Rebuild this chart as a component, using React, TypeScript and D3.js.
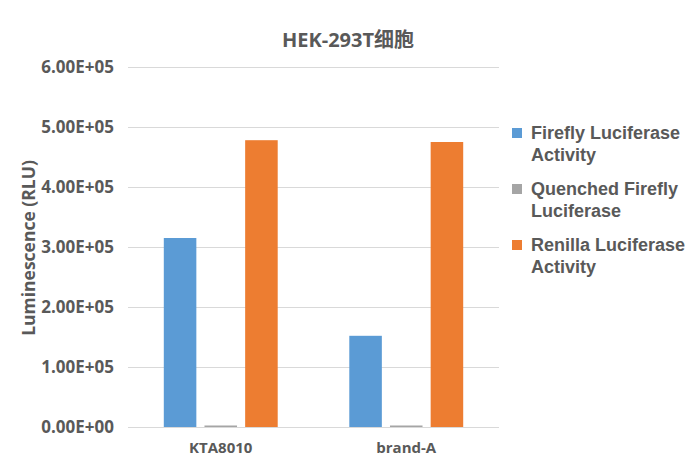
import * as d3 from 'd3';
import { useEffect, useRef } from 'react';

const categories = ['KTA8010', 'brand-A'];
const seriesNames = [
  'Firefly Luciferase Activity',
  'Quenched Firefly Luciferase',
  'Renilla Luciferase Activity',
];
const legendLines = [
  ['Firefly Luciferase', 'Activity'],
  ['Quenched Firefly', 'Luciferase'],
  ['Renilla Luciferase', 'Activity'],
];
const fireflyValues = [315000, 152000];
const quenchedValues = [2500, 2500];
const renillaValues = [478000, 475000];
const yTicks = [0, 100000, 200000, 300000, 400000, 500000, 600000];
const seriesColors = ['#5B9BD5', '#A5A5A5', '#ED7D31'];

const textColor = '#595959';
const width = 696;
const height = 461;

export default function App() {
  const svgRef = useRef<SVGSVGElement>(null);

  useEffect(() => {
    const svgEl = svgRef.current;
    if (!svgEl) return;
    const svg = d3.select(svgEl);
    svg.selectAll('*').remove();

    const margin = { top: 67, right: 197, bottom: 34, left: 128 };
    const innerW = width - margin.left - margin.right;
    const innerH = height - margin.top - margin.bottom;

    const data = categories.map((c, i) => ({
      category: c,
      values: [fireflyValues[i], quenchedValues[i], renillaValues[i]],
    }));

    const x0 = d3.scaleBand<string>().domain(categories).range([0, innerW]);
    const x1 = d3
      .scaleBand<number>()
      .domain([0, 1, 2])
      .range([0, x0.bandwidth()])
      .paddingInner(0.2)
      .paddingOuter(0.88);
    const y = d3.scaleLinear().domain([0, 600000]).range([innerH, 0]);

    const g = svg
      .append('g')
      .attr('transform', `translate(${margin.left},${margin.top})`);

    // gridlines
    g.selectAll('.grid')
      .data(yTicks)
      .join('line')
      .attr('x1', 0)
      .attr('x2', innerW)
      .attr('y1', (d) => Math.round(y(d)) + 0.5)
      .attr('y2', (d) => Math.round(y(d)) + 0.5)
      .attr('stroke', '#D9D9D9')
      .attr('stroke-width', 1);

    // tick labels
    g.selectAll('.tick')
      .data(yTicks)
      .join('text')
      .attr('x', -14)
      .attr('y', (d) => y(d))
      .attr('dy', '0.35em')
      .attr('text-anchor', 'end')
      .attr('fill', textColor)
      .attr('font-family', '"Open Sans", sans-serif')
      .attr('font-weight', 'bold')
      .attr('font-size', 17)
      .text((d) => d.toExponential(2).toUpperCase().replace(/E([+-])(\d)$/, 'E$10$2'));

    // bars
    const groups = g
      .selectAll('.cat')
      .data(data)
      .join('g')
      .attr('transform', (d) => `translate(${x0(d.category)},0)`);

    groups
      .selectAll('rect')
      .data((d) => d.values.map((v, i) => ({ v, i })))
      .join('rect')
      .attr('x', (d) => x1(d.i)!)
      .attr('width', x1.bandwidth())
      .attr('y', (d) => y(d.v))
      .attr('height', (d) => innerH - y(d.v))
      .attr('fill', (d) => seriesColors[d.i]);

    // category labels
    g.selectAll('.cat-label')
      .data(categories)
      .join('text')
      .attr('x', (d) => x0(d)! + x0.bandwidth() / 2)
      .attr('y', innerH + 21)
      .attr('dy', '0.35em')
      .attr('text-anchor', 'middle')
      .attr('fill', textColor)
      .attr('font-family', '"Open Sans", sans-serif')
      .attr('font-weight', 'bold')
      .attr('font-size', 15)
      .text((d) => d);

    // title
    svg
      .append('text')
      .attr('x', 348)
      .attr('y', 40)
      .attr('dy', '0.35em')
      .attr('text-anchor', 'middle')
      .attr('fill', textColor)
      .attr('font-family', '"Open Sans", "Noto Sans CJK SC", sans-serif')
      .attr('font-weight', 'bold')
      .attr('font-size', 20)
      .text('HEK-293T细胞');

    // y axis title
    svg
      .append('text')
      .attr('transform', `translate(29,${margin.top + innerH / 2 + 1}) rotate(-90)`)
      .attr('dy', '0.35em')
      .attr('text-anchor', 'middle')
      .attr('fill', textColor)
      .attr('font-family', '"Open Sans", sans-serif')
      .attr('font-weight', 'bold')
      .attr('font-size', 17.5)
      .text('Luminescence (RLU)');

    // legend
    const legend = svg
      .append('g')
      .selectAll('g')
      .data(seriesNames)
      .join('g')
      .attr('transform', (_, i) => `translate(512,${128 + i * 56})`);

    legend
      .append('rect')
      .attr('width', 10)
      .attr('height', 10)
      .attr('fill', (_, i) => seriesColors[i]);

    legend
      .append('text')
      .attr('x', 19)
      .attr('fill', textColor)
      .attr('font-family', '"Liberation Sans", Arial, sans-serif')
      .attr('font-weight', 'bold')
      .attr('font-size', 18)
      .selectAll('tspan')
      .data((_, i) => legendLines[i])
      .join('tspan')
      .attr('x', 19)
      .attr('y', (_, j) => 5 + j * 22)
      .attr('dy', '0.35em')
      .text((d) => d);
  }, []);

  return (
    <svg
      ref={svgRef}
      width={width}
      height={height}
      style={{ position: 'absolute', left: 0, top: 0, background: '#fff' }}
      role="img"
      aria-label="HEK-293T bar chart"
    />
  );
}
